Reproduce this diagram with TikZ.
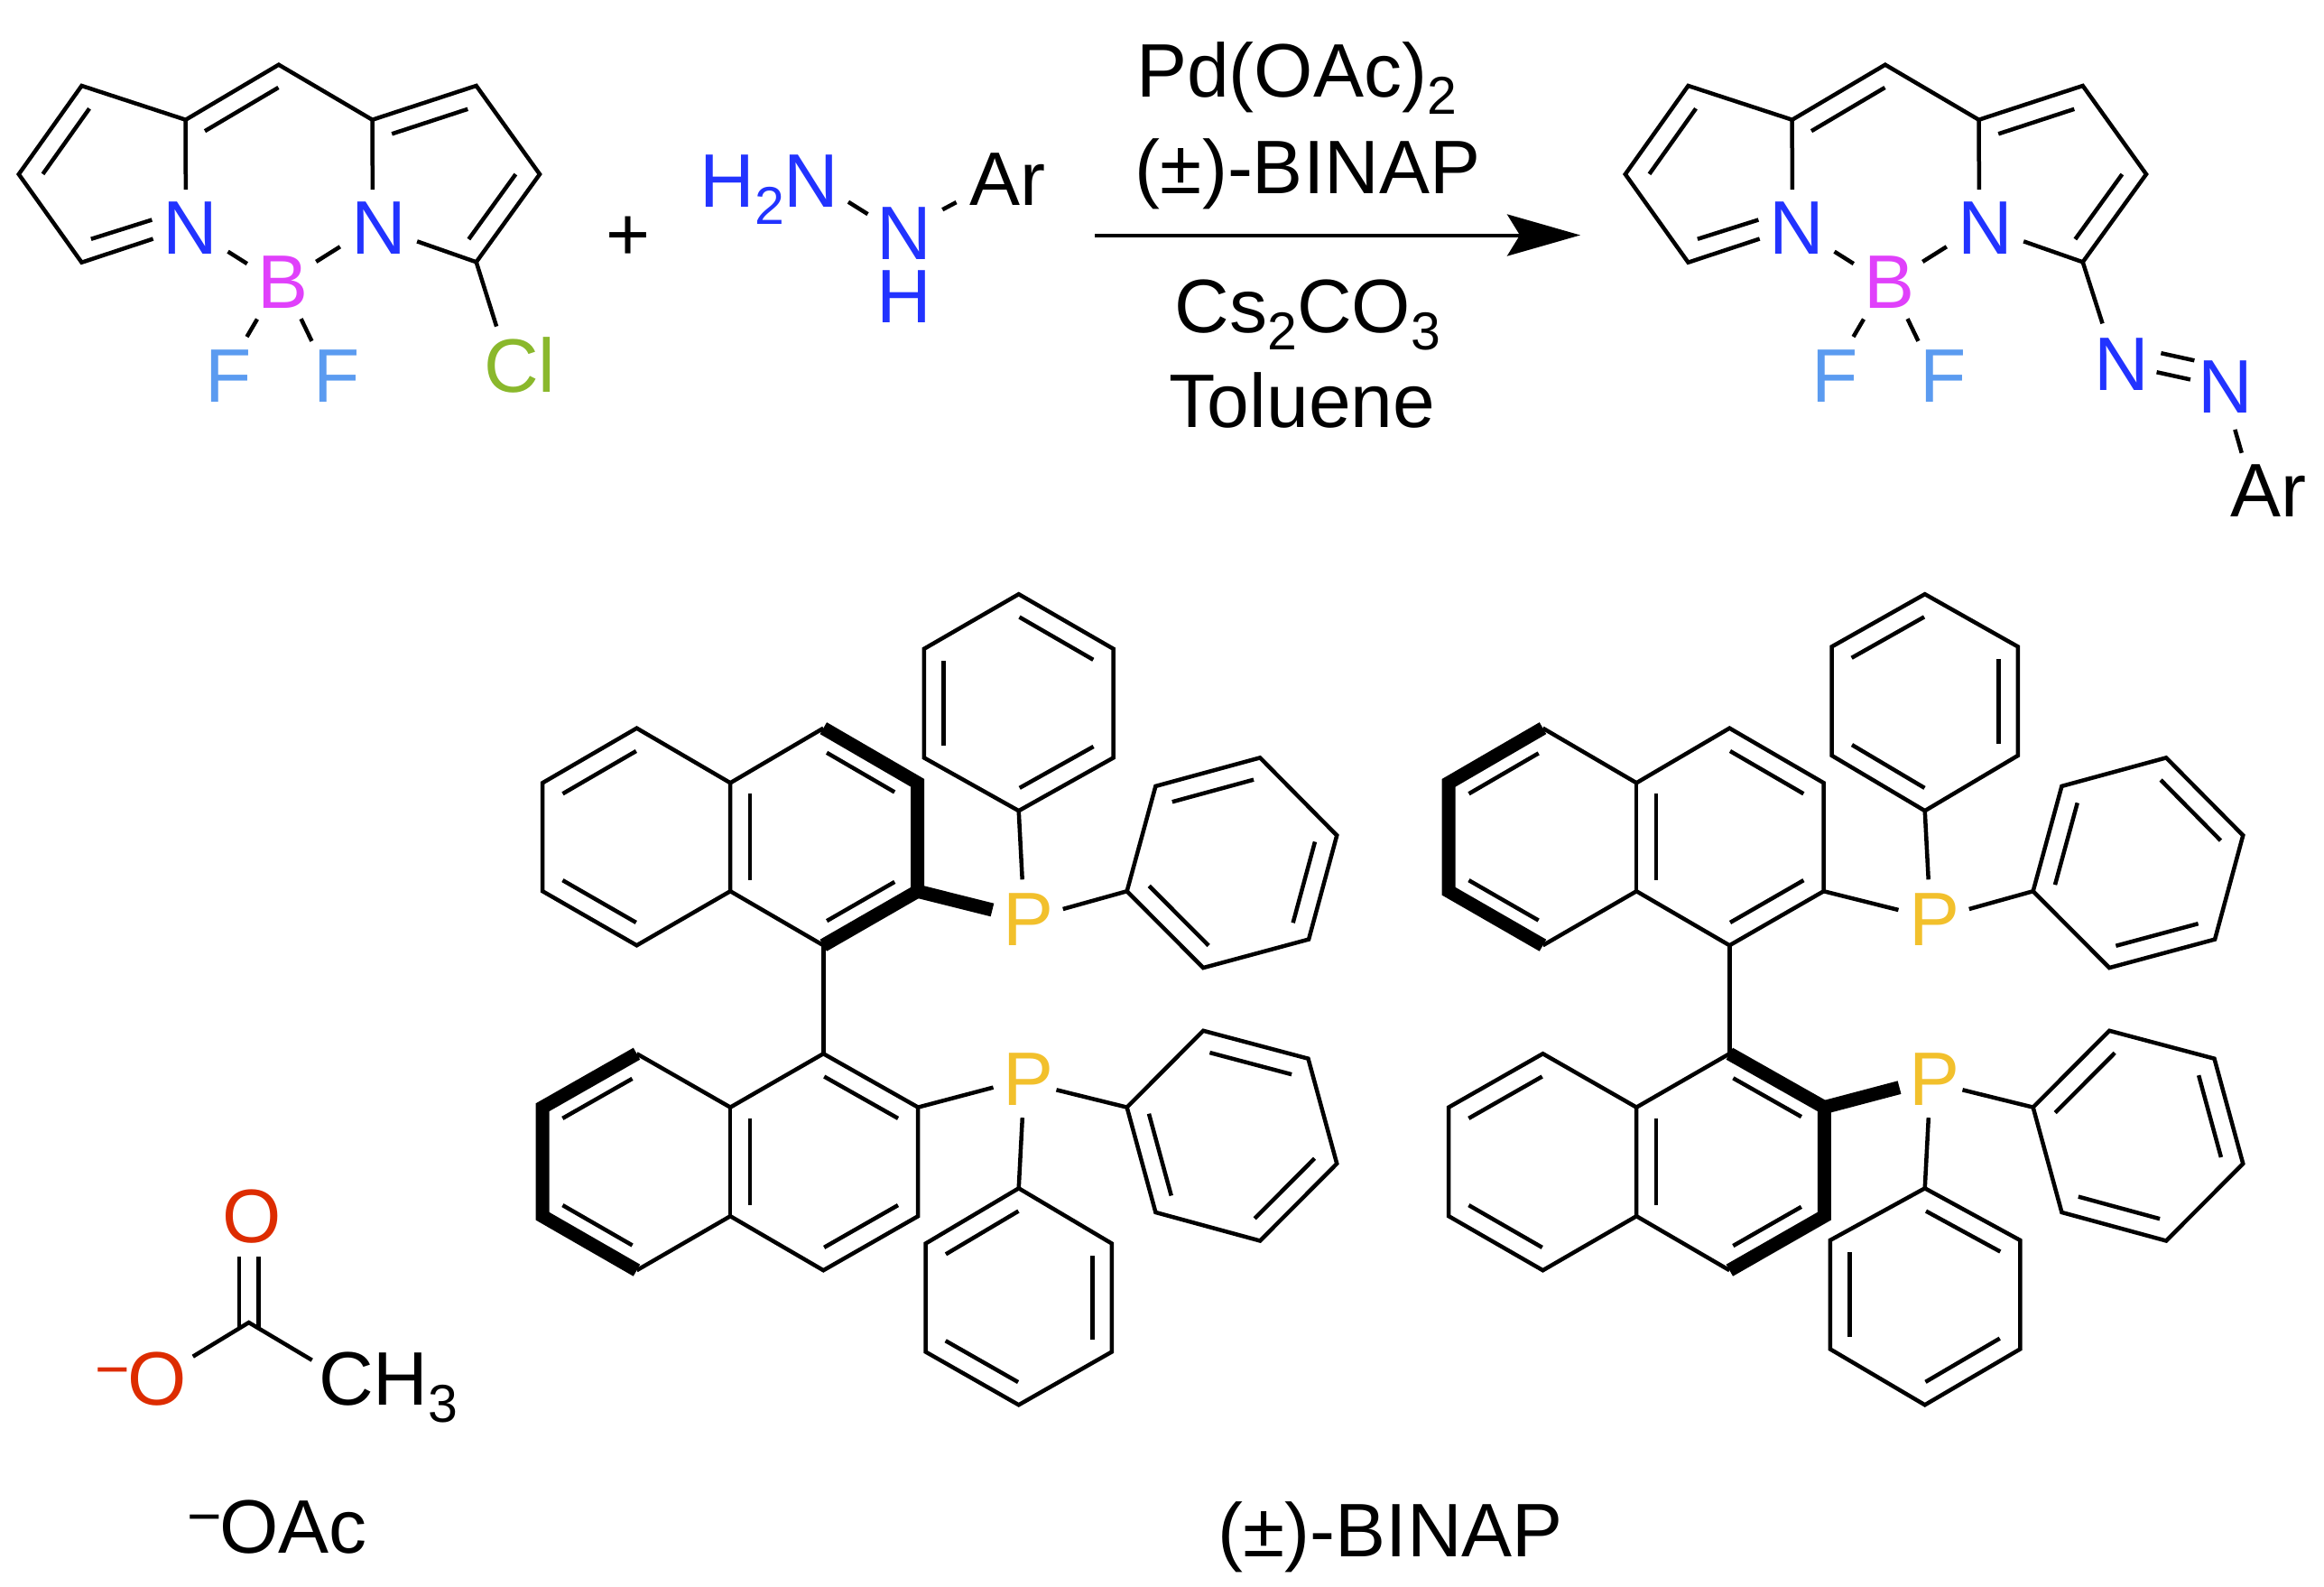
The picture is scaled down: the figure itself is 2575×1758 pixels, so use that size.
\documentclass[tikz,border=0pt]{standalone}
\usepackage{fontspec}
\setmainfont{Liberation Sans}
\usetikzlibrary{calc,arrows.meta}
\definecolor{ncol}{HTML}{2233FF}
\definecolor{bcol}{HTML}{E040FB}
\definecolor{fcol}{HTML}{5B9BF0}
\definecolor{clcol}{HTML}{8AB82C}
\definecolor{ocol}{HTML}{DD2C00}
\definecolor{pcol}{HTML}{F2C02C}
\newcommand\chemfont{\fontsize{84}{96}\selectfont}
\newcommand\chemsub[1]{\raisebox{-19pt}{\fontsize{59}{60}\selectfont #1}}
\newcommand\bondgap{21.6pt}
% inner line of a double bond: on the left of a->b, from fraction t1 to t2
\newcommand\inL[4]{\draw[bond] ($(#1)!#3!(#2)!\bondgap!90:(#2)$) -- ($(#1)!#4!(#2)!\bondgap!-90:(#1)$);}
\tikzset{
  bond/.style={line width=4.5pt,line cap=butt,line join=miter,draw=black},
  boldbond/.style={line width=15pt,line cap=butt,line join=miter,draw=black},
  atom/.style={circle,inner sep=0pt,outer sep=0pt,minimum size=86pt,font=\chemfont},
  chemlabel/.style={inner sep=0pt,outer sep=0pt,font=\chemfont},
  chemminus/.style={inner sep=0pt,outer sep=0pt,anchor=base,font=\fontsize{66}{70}\selectfont},
}
% BODIPY core, prefix #1
\newcommand\bodipy[1]{%
  \coordinate (#1apex) at (308.8,71.7);
  \coordinate (#1la) at (205.7,132.7);
  \coordinate (#1ra) at (412.5,132.7);
  \coordinate (#1lt) at (90.5,95);
  \coordinate (#1lf) at (20.8,193);
  \coordinate (#1lb) at (90.5,290.7);
  \coordinate (#1rt) at (527.7,95);
  \coordinate (#1rf) at (598,193);
  \coordinate (#1rb) at (527.7,290.3);
  \node[atom,text=ncol] (#1Nl) at (211,252.7) {N};
  \node[atom,text=ncol] (#1Nr) at (419.6,252.7) {N};
  \node[atom,text=bcol] (#1B) at (313.8,312.7) {B};
  \node[atom,text=fcol] (#1Fl) at (253.5,416.7) {F};
  \node[atom,text=fcol] (#1Fr) at (373.5,416.7) {F};
  \draw[bond] (#1Nl.97) -- (#1la) -- (#1lt) -- (#1lf) -- (#1lb) -- (#1Nl.196);
  \draw[bond] (#1la) -- (#1apex) -- (#1ra);
  \draw[bond] (#1Nr.99) -- (#1ra) -- (#1rt) -- (#1rf) -- (#1rb);
  \draw[bond,shorten >=2pt] (#1rb) -- (#1Nr.-19.5);
  \draw[bond,shorten <=6pt,shorten >=2pt] (#1Nl.-32.8) -- (#1B.153.8);
  \draw[bond,shorten <=4.5pt] (#1Nr.205.7) -- (#1B.32.5);
  \draw[bond,shorten <=7pt,shorten >=5pt] (#1B.234.5) -- (#1Fl.66.4);
  \draw[bond,shorten <=2pt,shorten >=5pt] (#1B.-64.7) -- (#1Fr.127);
  \inL{#1apex}{#1la}{0.11}{0.90}
  \inL{#1lt}{#1lf}{0.13}{0.87}
  \inL{#1lb}{#1Nl}{0.14}{0.70}
  \inL{#1rt}{#1ra}{0.14}{0.87}
  \inL{#1rb}{#1rf}{0.13}{0.87}
}
% BINAP vertices (in zoomed units of the enclosing scope)
\newcommand\binapcoords{%
  \coordinate (u1) at (226,275);  \coordinate (u2) at (52,375);
  \coordinate (u3) at (52,573);   \coordinate (u4) at (226,672);
  \coordinate (u5) at (399,573);  \coordinate (u6) at (399,375);
  \coordinate (u7) at (571,275);  \coordinate (u8) at (745,375);
  \coordinate (u9) at (745,573);  \coordinate (u10) at (571,672);
  \coordinate (l1) at (226,870);  \coordinate (l2) at (52,968);
  \coordinate (l3) at (52,1167);  \coordinate (l4) at (226,1266);
  \coordinate (l5) at (399,1167); \coordinate (l6) at (399,968);
  \coordinate (l7) at (571,870);  \coordinate (l8) at (746,968);
  \coordinate (l9) at (746,1167); \coordinate (l10) at (571,1266);
  \coordinate (b1) at (1132,573); \coordinate (b2) at (1185,381);
  \coordinate (b3) at (1378,329); \coordinate (b4) at (1520,471);
  \coordinate (b5) at (1468,661); \coordinate (b6) at (1273,713);
  \coordinate (c1) at (1132,968); \coordinate (c2) at (1273,828);
  \coordinate (c3) at (1467,879); \coordinate (c4) at (1520,1071);
  \coordinate (c5) at (1378,1212);\coordinate (c6) at (1185,1160);
}
\newcommand\binaprings{%
  \draw[bond] (a1)--(a2)--(a3)--(a4)--(a5)--(a6)--cycle;
  \draw[bond] (b1)--(b2)--(b3)--(b4)--(b5)--(b6)--cycle;
  \draw[bond] (c1)--(c2)--(c3)--(c4)--(c5)--(c6)--cycle;
  \draw[bond] (d1)--(d2)--(d3)--(d4)--(d5)--(d6)--cycle;
  \draw[bond] (u10)--(l7);
  \inL{u6}{u5}{0.10}{0.90}
  \inL{l6}{l5}{0.10}{0.90}
}
% P atoms and their bonds: #1 prefix, #2 style of upper aryl-P bond, #3 style of lower aryl-P bond
\newcommand\binapP[3]{%
  \node[atom,text=pcol] (#1Pu) at (950,625) {P};
  \node[atom,text=pcol] (#1Pl) at (950,917) {P};
  \draw[bond,shorten >=2pt] (a4) -- (#1Pu.99.2);
  \draw[bond,shorten >=-3pt] (b1) -- (#1Pu.17.6);
  \draw[bond,shorten >=-10pt] (c1) -- (#1Pl.-19.5);
  \draw[bond] (d1) -- (#1Pl.261);
  \draw[#2,shorten >=-1.5pt] (u9) -- (#1Pu.165.5);
  \draw[#3,shorten >=-3pt] (l8) -- (#1Pl.193);
}
\begin{document}
\begin{tikzpicture}[x=1pt,y=-1pt]
\path[use as bounding box,fill=white] (0,0) rectangle (2575,1758);

% ---------- reactant BODIPY
\bodipy{r}
\node[atom,text=clcol] (rCl) at (576,404.7) {Cl};
\draw[bond] (rrb) -- (rCl.121);

\node[chemlabel,anchor=base] (plus) at (695.6,288) {+};

% ---------- hydrazine
\node[chemlabel,anchor=base west,text=ncol] (hH2N) at (775.5,229) {H\chemsub{2}N};
\coordinate (hNa) at (900.5,199);
\node[chemlabel,text=ncol] (hN) at (1002,259) {N};
\node[chemlabel,text=ncol] (hH) at (1002,329) {H};
\node[atom,text=black] (hAr) at (1116.2,199) {Ar};
\draw[bond,shorten <=46.5pt,shorten >=12pt] (hNa) -- (hN.153.4);
\draw[bond,shorten <=13.5pt,shorten >=11pt] (hN.34) -- (hAr.-157);

% ---------- conditions and arrow
\node[chemlabel,anchor=base] (cPd) at (1436.5,108) {Pd(OAc)\chemsub{2}};
\node[chemlabel,anchor=base] (cBinap) at (1449,214) {(±)-BINAP};
\node[chemlabel,anchor=base] (cCs) at (1449,368) {Cs\chemsub{2}CO\chemsub{3}};
\node[chemlabel,anchor=base] (cTol) at (1443,473) {Toluene};
\coordinate (arrS) at (1213,260.5);
\coordinate (arrE) at (1751,260.5);
\draw[line width=4pt,-{Stealth[length=81pt,width=46pt,inset=14pt]}] (arrS) -- (arrE);

% ---------- product BODIPY
\begin{scope}[xshift=1780pt]
\bodipy{p}
\end{scope}
\node[atom,text=ncol] (pAz1) at (2350.5,403.7) {N};
\node[atom,text=ncol] (pAz2) at (2466,429) {N};
\node[atom,text=black] (pAr) at (2513,543.5) {Ar};
\draw[bond,shorten >=7pt] (prb) -- (pAz1.116);
\draw[bond,shorten <=-3pt,shorten >=-3pt] (pAz1) -- (pAz2);
\inL{pAz1}{pAz2}{0.34}{0.66}
\draw[bond,shorten <=5pt] (pAz2.-78) -- (pAr.125.5);

% ---------- left BINAP
\begin{scope}[shift={(570,640)},x=0.5995pt,y=-0.606pt]
\binapcoords
\coordinate (a1) at (932,30);   \coordinate (a2) at (757,130);
\coordinate (a3) at (757,329);  \coordinate (a4) at (932,426);
\coordinate (a5) at (1107,329); \coordinate (a6) at (1107,130);
\coordinate (d1) at (932,1116); \coordinate (d2) at (760,1217);
\coordinate (d3) at (760,1415); \coordinate (d4) at (932,1512);
\coordinate (d5) at (1104,1415);\coordinate (d6) at (1104,1217);
\binaprings
\draw[bond] (u7)--(u6)--(u1)--(u2)--(u3)--(u4)--(u5)--(u6);
\draw[bond] (u5)--(u10);
\draw[boldbond] (u7)--(u8)--(u9)--(u10);
\draw[bond] (l1)--(l6)--(l7)--(l8)--(l9)--(l10)--(l5)--(l4);
\draw[bond] (l5)--(l6);
\draw[boldbond] (l1)--(l2)--(l3)--(l4);
\binapP{L}{boldbond}{bond}
\inL{u1}{u2}{0.11}{0.89}
\inL{u3}{u4}{0.11}{0.89}
\inL{u8}{u7}{0.14}{0.86}
\inL{u10}{u9}{0.14}{0.86}
\inL{l1}{l2}{0.15}{0.89}
\inL{l3}{l4}{0.11}{0.85}
\inL{l8}{l7}{0.11}{0.89}
\inL{l10}{l9}{0.11}{0.89}
\inL{a6}{a1}{0.11}{0.89}
\inL{a2}{a3}{0.11}{0.89}
\inL{a4}{a5}{0.11}{0.89}
\inL{b3}{b2}{0.11}{0.89}
\inL{b5}{b4}{0.11}{0.89}
\inL{b1}{b6}{0.11}{0.89}
\inL{c3}{c2}{0.11}{0.89}
\inL{c5}{c4}{0.11}{0.89}
\inL{c1}{c6}{0.11}{0.89}
\inL{d1}{d2}{0.11}{0.89}
\inL{d3}{d4}{0.11}{0.89}
\inL{d5}{d6}{0.11}{0.89}
\end{scope}

% ---------- right BINAP
\begin{scope}[shift={(1574,640)},x=0.5995pt,y=-0.606pt]
\binapcoords
\coordinate (a1) at (932,30);   \coordinate (a2) at (760,126);
\coordinate (a3) at (760,325);  \coordinate (a4) at (932,426);
\coordinate (a5) at (1104,325); \coordinate (a6) at (1104,126);
\coordinate (d1) at (932,1116); \coordinate (d2) at (757,1211);
\coordinate (d3) at (757,1410); \coordinate (d4) at (932,1512);
\coordinate (d5) at (1108,1410);\coordinate (d6) at (1108,1211);
\binaprings
\draw[bond] (u1)--(u6)--(u7)--(u8)--(u9)--(u10)--(u5)--(u4);
\draw[bond] (u5)--(u6);
\draw[boldbond] (u1)--(u2)--(u3)--(u4);
\draw[bond] (l7)--(l6)--(l1)--(l2)--(l3)--(l4)--(l5)--(l6);
\draw[bond] (l5)--(l10);
\draw[boldbond] (l7)--(l8)--(l9)--(l10);
\binapP{R}{bond}{boldbond}
\inL{u1}{u2}{0.15}{0.89}
\inL{u3}{u4}{0.11}{0.85}
\inL{u8}{u7}{0.11}{0.89}
\inL{u10}{u9}{0.11}{0.89}
\inL{l1}{l2}{0.11}{0.89}
\inL{l3}{l4}{0.11}{0.89}
\inL{l8}{l7}{0.14}{0.86}
\inL{l10}{l9}{0.14}{0.86}
\inL{a1}{a2}{0.11}{0.89}
\inL{a5}{a6}{0.11}{0.89}
\inL{a3}{a4}{0.11}{0.89}
\inL{b2}{b1}{0.11}{0.89}
\inL{b4}{b3}{0.11}{0.89}
\inL{b6}{b5}{0.11}{0.89}
\inL{c2}{c1}{0.11}{0.89}
\inL{c4}{c3}{0.11}{0.89}
\inL{c6}{c5}{0.11}{0.89}
\inL{d6}{d1}{0.11}{0.89}
\inL{d2}{d3}{0.11}{0.89}
\inL{d4}{d5}{0.11}{0.89}
\end{scope}

% ---------- acetate
\coordinate (acC) at (275.7,1465);
\coordinate (acD1) at (265,1472);
\coordinate (acD2) at (286.7,1472);
\coordinate (acM) at (345.7,1506.7);
\node[atom,text=ocol] (acOt) at (278.7,1347.7) {O};
\node[atom,text=ocol] (acOm) at (174.3,1527.3) {O};
\node[chemminus,text=ocol] (acMinus) at (124.5,1539.7) {−};
\node[chemlabel,anchor=base west] (acCH3) at (353,1556.7) {CH\chemsub{3}};
\draw[bond] (acD1) -- (acD1 |- acOt.south);
\draw[bond] (acD2) -- (acD2 |- acOt.south);
\draw[bond,shorten >=2.5pt] (acM) -- (acC) -- (acOm.32.4);

\node[chemminus] (oaMinus) at (226.5,1702) {−};
\node[chemlabel,anchor=base west] (oaOAc) at (243.6,1720.7) {OAc};
\node[chemlabel,anchor=base] (binapLabel) at (1540.8,1724.3) {(±)-BINAP};
\end{tikzpicture}
\end{document}
